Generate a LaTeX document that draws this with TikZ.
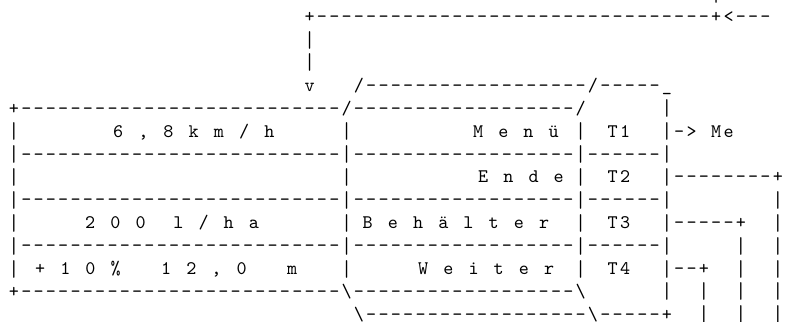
\documentclass[tikz,border=0pt]{standalone}
\usepackage{fontspec}
\setmonofont{lmmono10-regular.otf}
\usepackage{tikz}
\newlength\pitch
\setlength\pitch{12.32pt}
\def\ascbar{|}
\makeatletter
\newcommand\asc[1]{\@tfor\ascchar:=#1\do{\makebox[\pitch][c]{%
  \ifx\ascchar\ascbar\raisebox{-1.5pt}{\scalebox{1}[1.2]{|}}\else\ascchar\fi}}}
\makeatother
\newcommand\txt[1]{{\setlength\pitch{12.6pt}\asc{#1}}}
\tikzstyle{ascii}=[font=\ttfamily\fontsize{19.2}{22.9}\selectfont, anchor=base west, inner sep=0pt, outer sep=0pt, xshift=-6.16pt, yshift=-6pt]

\begin{document}
\begin{tikzpicture}[x=12.32pt, y=-22.9pt]
  \useasboundingbox (-1.1364,-0.7293) rectangle (62.906,13.332);
  % feedback line from above
  \node[ascii] (topbar) at (57,-1) {\asc{|}};
  \node[ascii] (loop) at (24,0) {\asc{+--------------------------------+<---}};
  \foreach \r in {1,2}
    \node[ascii] (down\r) at (24,\r) {\asc{|}};
  \node[ascii] (arrow) at (24,3) {\asc{v}};
  % lid of the key strip
  \node[ascii] (lid) at (28,3) {\asc{/------------------/-----\_}};
  \node[ascii] (frame) at (0,4) {\asc{+--------------------------/------------------/}};
  \node[ascii] (side) at (53,4) {\asc{|}};
  % display rows
  \foreach \r/\n in {6/a,8/b,10/c}
    \node[ascii] (rule\n) at (0,\r) {\asc{|--------------------------|------------------|------|}};
  \foreach \r in {5,7,9,11}{
    \node[ascii] (left\r) at (0,\r) {\asc{|}};
    \node[ascii] (mid\r) at (27,\r) {\asc{|}};
    \node[ascii] (keys\r) at (46,\r) {\asc{|}};
    \node[ascii] (right\r) at (53,\r) {\asc{|}};
  }
  \node[ascii] (speed) at (8.44,5) {\txt{6~,~8~k~m~/~h}};
  \node[ascii] (menu) at (37.66,5) {\txt{M~e~n~ü}};
  \node[ascii] (tone) at (48.6,5) {\asc{T1}};
  \node[ascii] (toneout) at (54,5) {\asc{->~Me}};
  \node[ascii] (ende) at (38.07,7) {\txt{E~n~d~e}};
  \node[ascii] (ttwo) at (48.6,7) {\asc{T2}};
  \node[ascii] (ttwoout) at (54,7) {\asc{--------+}};
  \node[ascii] (rate) at (6.17,9) {\txt{2~0~0~~l~/~h~a}};
  \node[ascii] (tank) at (28.7,9) {\txt{B~e~h~ä~l~t~e~r}};
  \node[ascii] (tthree) at (48.6,9) {\asc{T3}};
  \node[ascii] (tthreeout) at (54,9) {\asc{-----+}};
  \node[ascii] (width) at (2.11,11) {\txt{+~1~0~\%~~~1~2~,~0~~~m}};
  \node[ascii] (next) at (33.2,11) {\txt{W~e~i~t~e~r}};
  \node[ascii] (tfour) at (48.6,11) {\asc{T4}};
  \node[ascii] (tfourout) at (54,11) {\asc{--+}};
  % bottom of frame and key strip
  \node[ascii] (base) at (0,12) {\asc{+--------------------------\textbackslash------------------\textbackslash}};
  \node[ascii] (sidelow) at (53,12) {\asc{|}};
  \node[ascii] (foot) at (28,13) {\asc{\textbackslash------------------\textbackslash-----+}};
  % wires going down
  \foreach \r in {8,9,...,13}
    \node[ascii] (wa\r) at (62,\r) {\asc{|}};
  \foreach \r in {10,11,12,13}
    \node[ascii] (wb\r) at (59,\r) {\asc{|}};
  \foreach \r in {12,13}
    \node[ascii] (wc\r) at (56,\r) {\asc{|}};
\end{tikzpicture}
\end{document}
